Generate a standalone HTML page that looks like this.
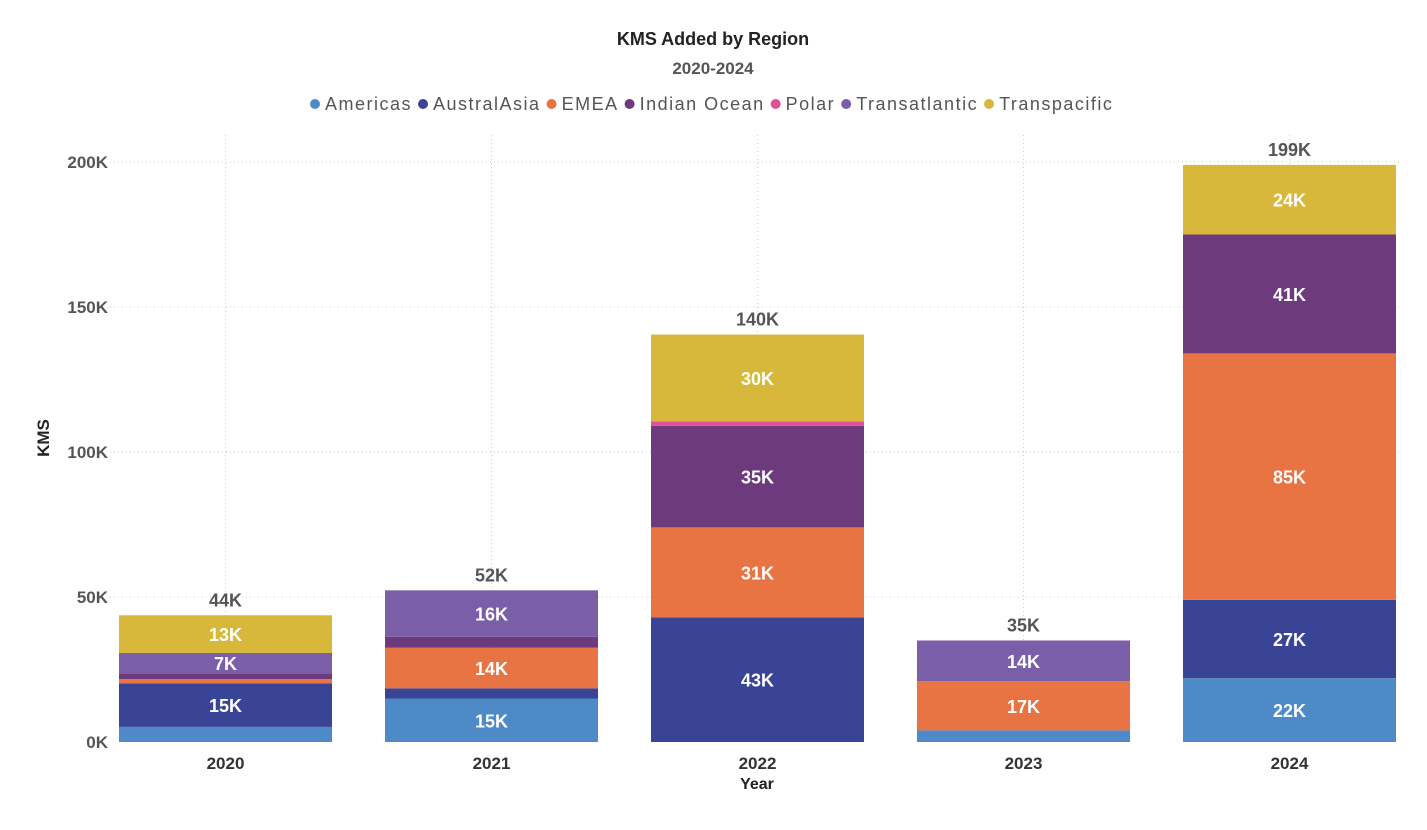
<!DOCTYPE html>
<html><head><meta charset="utf-8"><style>
body{margin:0;background:#fff;width:1427px;height:825px;overflow:hidden;font-family:"Liberation Sans",sans-serif}
svg text{font-family:"Liberation Sans",sans-serif}
</style></head><body>
<svg id="chart" width="1427" height="825" xmlns="http://www.w3.org/2000/svg">
<text x="713" y="45" text-anchor="middle" font-size="18" font-weight="bold" fill="#222">KMS Added by Region</text>
<text x="713" y="74" text-anchor="middle" font-size="17" font-weight="bold" fill="#555">2020-2024</text>
<g id="legend"></g>
<g id="grid"></g>
<g id="bars"></g>
<text transform="translate(49,438) rotate(-90)" text-anchor="middle" font-size="17" font-weight="bold" fill="#222">KMS</text>
<text x="757" y="789" text-anchor="middle" font-size="16" font-weight="bold" fill="#222">Year</text>
</svg>
<script>
const years = ["2020","2021","2022","2023","2024"];
const regions = ["Americas","AustralAsia","EMEA","Indian Ocean","Polar","Transatlantic","Transpacific"];
const colors = ["#4e8ac8","#3a4496","#e87443","#6e3a7e","#e0509a","#7a5ea8","#d8b83a"];
const americas = [5.2,15,0,4,22];
const australasia = [15,3.5,43,0,27];
const emea = [1.5,14,31,17,85];
const indianOcean = [2,3.8,35,0,41];
const polar = [0,0,1.5,0,0];
const transatlantic = [7,16,0,14,0];
const transpacific = [13,0,30,0,24];
const totals = ["44K","52K","140K","35K","199K"];
const yTicks = [0,50,100,150,200];
const series = [americas,australasia,emea,indianOcean,polar,transatlantic,transpacific];
const NS="http://www.w3.org/2000/svg";
const y0=742, yTop=162, yMax=200;
const y = v => y0 - v*(y0-yTop)/yMax;
const bandL=119, pitch=266, bw=213;
const x = i => bandL + i*pitch;
function mk(t,a,p){const e=document.createElementNS(NS,t);for(const k in a)e.setAttribute(k,a[k]);p.appendChild(e);return e;}
const grid=document.getElementById('grid');
yTicks.forEach(t=>{
  if(t>0){const l=mk('line',{x1:110,x2:1400,y1:y(t),y2:y(t),stroke:'#ccc','stroke-dasharray':'1,3'},grid);
  
  }
  const tx=mk('text',{x:108,y:y(t)+6,'text-anchor':'end','font-size':17,'font-weight':'bold',fill:'#555'},grid);
  tx.textContent=t+'K';
  
  
});
years.forEach((yr,i)=>{
  const cx=x(i)+bw/2;
  const l=mk('line',{x1:cx,x2:cx,y1:135,y2:742,stroke:'#ccc','stroke-dasharray':'1,3'},grid);
  
  
  const tx=mk('text',{x:cx,y:769,'text-anchor':'middle','font-size':17,'font-weight':'bold',fill:'#333'},grid);
  tx.textContent=yr;
  
  
});
const bars=document.getElementById('bars');
years.forEach((yr,i)=>{
  let cum=0;
  series.forEach((s,k)=>{
    const v=s[i]; if(!v) return;
    const r=mk('rect',{x:x(i),y:y(cum+v),width:bw,height:y(cum)-y(cum+v),fill:colors[k]},bars);
    
    
    if(v>=5.5){
      const t=mk('text',{x:x(i)+bw/2,y:(y(cum)+y(cum+v))/2+7,'text-anchor':'middle','font-size':18,'font-weight':'bold',fill:'#fff'},bars);
      t.textContent=Math.round(v)+'K';
      
      
    }
    cum+=v;
  });
  const t=mk('text',{x:x(i)+bw/2,y:y(cum)-9,'text-anchor':'middle','font-size':18,'font-weight':'bold',fill:'#555'},bars);
  t.textContent=totals[i];
  
  
});
const legend=document.getElementById('legend');
let lx=310;
regions.forEach((r,k)=>{
  const c=mk('circle',{cx:lx+5,cy:104,r:5,fill:colors[k]},legend);
  
  
  const t=mk('text',{x:lx+15,y:110,'font-size':18,'letter-spacing':'1.5',fill:'#555'},legend);
  t.textContent=r;
  
  
  lx+=15+t.getComputedTextLength()+6;
});
</script>
</body></html>
